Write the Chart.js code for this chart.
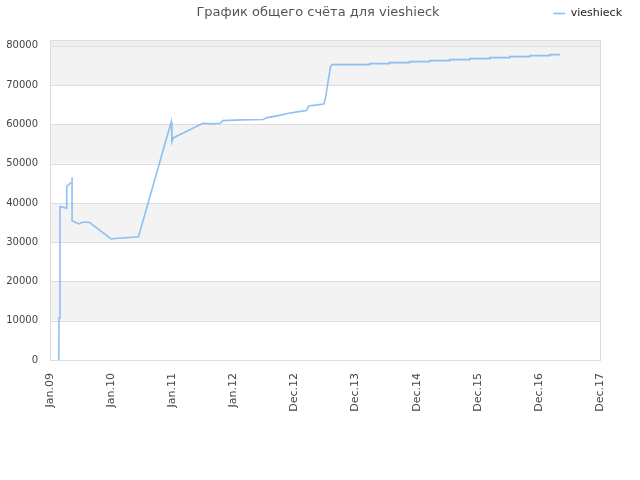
<!DOCTYPE html>
<html>
<head>
  <title>График общего счёта</title>
  <script src="https://cdn.jsdelivr.net/npm/chart.js"></script>
  <style>
    body { margin: 0; background: #fff; }
    #wrap { position: relative; width: 640px; height: 480px; }
    #title {
        position: absolute; left: 0; top: 4px; width: 636px;
        text-align: center; font: 13px "DejaVu Sans", sans-serif; color: #555;
    }
</style>
</head>
<body>
    <div id="wrap">
      <div id="title">График общего счёта для vieshieck</div>
      <canvas id="myChart" width="640" height="480"></canvas>
    </div>

  <script>
    // x labels, one per year-tick
    const tickLabels = ['Jan.09', 'Jan.10', 'Jan.11', 'Jan.12', 'Dec.12', 'Dec.13', 'Dec.14', 'Dec.15', 'Dec.16', 'Dec.17'];
    const yTicks = [0, 10000, 20000, 30000, 40000, 50000, 60000, 70000, 80000];

    // position along the x axis (tick index units) and total score
    const xPos = [0.143, 0.148, 0.164, 0.164, 0.274, 0.274, 0.328, 0.361, 0.361, 0.361, 0.410, 0.475, 0.530, 0.644,
                  1.0, 1.120, 1.448, 1.984, 1.995, 2.016, 2.503, 2.651, 2.787, 2.825, 3.143, 3.487, 3.552, 3.716,
                  3.907, 4.070, 4.197, 4.234, 4.372, 4.480, 4.508, 4.546, 4.590, 4.618,
                  5.230, 5.230, 5.557, 5.557, 5.885, 5.885, 6.213, 6.213, 6.541, 6.541, 6.869, 6.869,
                  7.197, 7.197, 7.525, 7.525, 7.852, 7.852, 8.180, 8.180, 8.344];
    const scores = [0, 10700, 10700, 39060, 38650, 44150, 45000, 45300, 46550, 35400, 35080, 34650, 35080, 35080,
                    30830, 31000, 31400, 60700, 55600, 56560, 60300, 60130, 60300, 60970, 61150, 61250, 61730, 62170,
                    62840, 63260, 63510, 64710, 64970, 65220, 66670, 70490, 74720, 75240,
                    75240, 75490, 75490, 75740, 75740, 76000, 76000, 76250, 76250, 76510, 76510, 76760,
                    76760, 77020, 77020, 77270, 77270, 77530, 77530, 77780, 77780];

    const points = xPos.map((x, i) => ({ x: x, y: scores[i] }));

    // alternating gray bands behind the plot
    const bandPlugin = {
      id: 'bands',
      beforeDatasetsDraw(chart) {
        const c = chart.ctx, a = chart.chartArea, y = chart.scales.y;
        c.save();
        c.fillStyle = '#f3f3f3';
        for (let v = 10000; v < 80000; v += 20000) {
          const t = y.getPixelForValue(v + 10000), b = y.getPixelForValue(v);
          c.fillRect(a.left, t, a.right - a.left, b - t);
        }
        c.fillStyle = '#efefef';
        const t8 = y.getPixelForValue(80000);
        c.fillRect(a.left, a.top, a.right - a.left, t8 - a.top);
        // grid lines and frame
        c.strokeStyle = '#dddddd';
        c.lineWidth = 1;
        yTicks.forEach(v => {
          const p = Math.round(y.getPixelForValue(v)) + 0.5;
          c.beginPath(); c.moveTo(a.left, p); c.lineTo(a.right, p); c.stroke();
        });
        c.strokeRect(Math.round(a.left) + 0.5, Math.round(a.top) + 0.5, Math.round(a.right - a.left), Math.round(a.bottom - a.top));
        c.restore();
      }
    };

    const ctx = document.getElementById('myChart').getContext('2d');
    const myChart = new Chart(ctx, {
    type: 'line',
    data: {
        datasets: [{
            label: 'vieshieck',
            data: points,
            xAxisID: 'x',
            yAxisID: 'y',
            borderColor: 'rgba(125,182,240,0.85)',
            backgroundColor: 'rgba(125,182,240,0.85)',
            borderWidth: 1.6,
            pointRadius: 0,
            tension: 0,
            fill: false
        }]
    },
    options: {
        responsive: false,
        animation: false,
        layout: { padding: { left: 0, right: 10, top: 0, bottom: 0 } },
        plugins: {
            legend: {
                position: 'top',
                align: 'end',
                labels: {
                    usePointStyle: true,
                    pointStyle: 'line',
                    pointStyleWidth: 12,
                    boxHeight: 8,
                    color: '#222',
                    font: { family: 'DejaVu Sans', size: 11 },
                    padding: 8
                }
            },
            tooltip: { enabled: false }
        },
        scales: {
            x: {
                type: 'linear',
                min: 0,
                max: 9,
                grid: { display: false, drawTicks: false },
                border: { display: false },
                afterBuildTicks: s => { s.ticks = tickLabels.map((_, i) => ({ value: i })); },
                afterFit: s => { s.height = 120; },
                ticks: {
                    minRotation: 90,
                    maxRotation: 90,
                    padding: 13,
                    color: '#444',
                    font: { family: 'DejaVu Sans', size: 11 },
                    callback: v => tickLabels[v]
                }
            },
            y: {
                min: 0,
                max: 81500,
                grid: { display: false, drawTicks: false },
                border: { display: false },
                afterBuildTicks: s => { s.ticks = yTicks.map(v => ({ value: v })); },
                afterFit: s => { s.width = 50; },
                ticks: {
                    color: '#444',
                    padding: 12,
                    font: { family: 'DejaVu Sans', size: 10 },
                    callback: v => String(v)
                }
            },
            // empty spacers so the plot sits where the original does
            xTop: {
                type: 'linear',
                position: 'top',
                grid: { display: false },
                border: { display: false },
                ticks: { display: false },
                afterFit: s => { s.height = 11; }
            },
            yRight: {
                type: 'linear',
                position: 'right',
                grid: { display: false },
                border: { display: false },
                ticks: { display: false },
                afterFit: s => { s.width = 30; }
            }
        }
    },
    plugins: [bandPlugin]
});
  </script>
</body>
</html>
